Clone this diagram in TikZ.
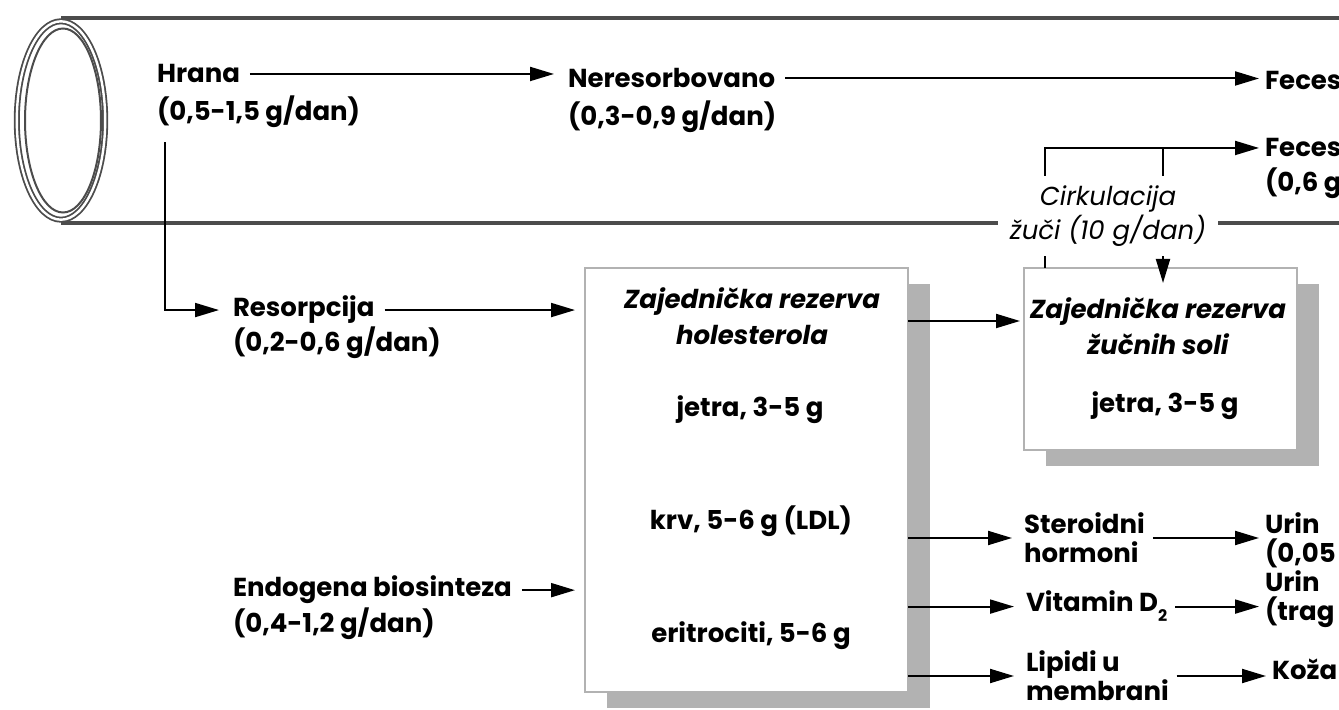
\documentclass[tikz,border=0pt]{standalone}
\usepackage{fontspec}
\setmainfont{Poppins}
\usetikzlibrary{arrows.meta,positioning,shadows}

\begin{document}
\begin{tikzpicture}[x=0.5pt,y=-0.5pt,>={Triangle[length=12pt,width=7pt]},
  txt/.style={font=\fontsize{13}{14.5}\selectfont\bfseries,inner sep=0pt,outer sep=5pt,anchor=base west},
  mid/.style={txt,outer sep=4pt},
  sub/.style={txt,outer sep=1pt},
  pair/.style={align=left,anchor=west},
  boxhead/.style={font=\fontsize{13}{18}\selectfont\bfseries\itshape,align=center,inner sep=0pt},
  boxtxt/.style={font=\fontsize{13}{14.5}\selectfont\bfseries,inner sep=0pt,anchor=base},
  pool/.style={draw=black!30,line width=0.8pt,fill=white,inner sep=0pt,outer sep=0pt,
    drop shadow={shadow xshift=11pt,shadow yshift=-8pt,fill=black!30,opacity=1}},
  tube/.style={draw=black!70,line width=1.8pt},
  line/.style={line width=1pt},
  flow/.style={->,line width=1pt,shorten >=2pt}]

\clip (0,0) rectangle (1339,710);

% crijevo
\coordinate (tubeTL) at (61,18);
\coordinate (tubeTR) at (1339,18);
\coordinate (tubeBL) at (61,223);
\coordinate (tubeBR) at (1339,223);
\draw[draw=black!70,line width=0.9pt,double=white,double distance=1.2pt] (61,120.5) ellipse [x radius=22.1pt,y radius=49.6pt];
\draw[draw=black!70,line width=1pt] (63,120.5) ellipse [x radius=19pt,y radius=46pt];

\node[txt] (hrana)     at (147,83)  {Hrana};
\node[txt] (hranaAmt)  at (147,121) {(0,5-1,5 g/dan)};
\node[txt] (neres)     at (558,88)  {Neresorbovano};
\node[txt] (neresAmt)  at (558,126) {(0,3-0,9 g/dan)};
\node[sub] (feces)     at (1263,90) {Feces};
\node[sub] (fecesB)    at (1263,157) {Feces};
\node[sub] (fecesBAmt) at (1263,192) {(0,6 g};

\node[font=\fontsize{13}{14.5}\selectfont\itshape,align=center,inner xsep=6pt,inner ysep=5pt]
  (cirk) at (1108,216) {Cirkulacija\\žuči (10 g/dan)};

\node[txt] (resorp)    at (223,317) {Resorpcija};
\node[txt] (resorpAmt) at (223,352) {(0,2-0,6 g/dan)};
\node[txt] (endo)      at (223,597) {Endogena biosinteza};
\node[txt] (endoAmt)   at (223,633) {(0,4-1,2 g/dan)};

\node[pool,minimum width=161.5pt,minimum height=212pt] (chol) at (746.5,480) {};
\node[boxhead] (cholHead)  at (752,316) {Zajednička rezerva\\holesterola};
\node[boxtxt]  (cholLiver) at (750,417) {jetra, 3-5 g};
\node[boxtxt]  (cholBlood) at (751,530) {krv, 5-6 g (LDL)};
\node[boxtxt]  (cholRbc)   at (751,643) {eritrociti, 5-6 g};

\node[pool,minimum width=136.5pt,minimum height=91pt] (bile) at (1160.5,359) {};
\node[boxhead] (bileHead)  at (1158,326) {Zajednička rezerva\\žučnih soli};
\node[boxtxt]  (bileLiver) at (1165,413) {jetra, 3-5 g};

\node[mid,pair] (steroid) at (1016,538) {Steroidni\\hormoni};
\node[mid]      (vitd)    at (1018,612) {Vitamin D\raisebox{-5pt}{\fontsize{8}{8}\selectfont 2}};
\node[mid,pair] (lipid)   at (1018,676) {Lipidi u\\membrani};
\node[sub,pair] (urinA)   at (1263,540) {Urin\\(0,05};
\node[sub,pair] (urinB)   at (1263,599) {Urin\\(trag};
\node[sub]      (koza)    at (1270,680) {Koža};

\coordinate (bileIn) at (1024,321);
\coordinate (outX) at (1045,268);
\coordinate (retX) at (1163,287);

\draw[tube] (tubeTL) -- (tubeTR);
\draw[tube] (tubeBL) -- (tubeBL -| cirk.west) (tubeBR -| cirk.east) -- (tubeBR);

\draw[flow] (hrana.east) -- (hrana.east -| neres.west);
\draw[flow] (neres.east) -- (neres.east -| feces.west);
\draw[flow] ([xshift=9pt,yshift=-2pt]hranaAmt.south west) |- (resorp.west);
\draw[flow,shorten >=5pt] (resorp.east) -- (resorp.east -| chol.west);
\draw[flow,shorten >=5pt] (endo.east) -- (endo.east -| chol.west);
\draw[flow] (bileIn -| chol.east) -- (bileIn);
\draw[flow] (chol.east |- steroid.west) -- (steroid.west);
\draw[flow] (chol.east |- vitd.west) -- (vitd.west);
\draw[flow] (chol.east |- lipid.west) -- (lipid.west);
\draw[flow] (steroid.east) -- (steroid.east -| urinA.west);
\draw[flow] (vitd.east) -- (vitd.east -| urinB.west);
\draw[flow] (lipid.east) -- (lipid.east -| koza.west);

\draw[line] (bile.north -| outX) -- (cirk.south -| outX);
\draw[flow] (cirk.north -| outX) |- (fecesB.west);
\draw[line] (cirk.north -| retX) -- (fecesB.west -| retX);
\draw[flow] (cirk.south -| retX) -- (retX);
\end{tikzpicture}
\end{document}
